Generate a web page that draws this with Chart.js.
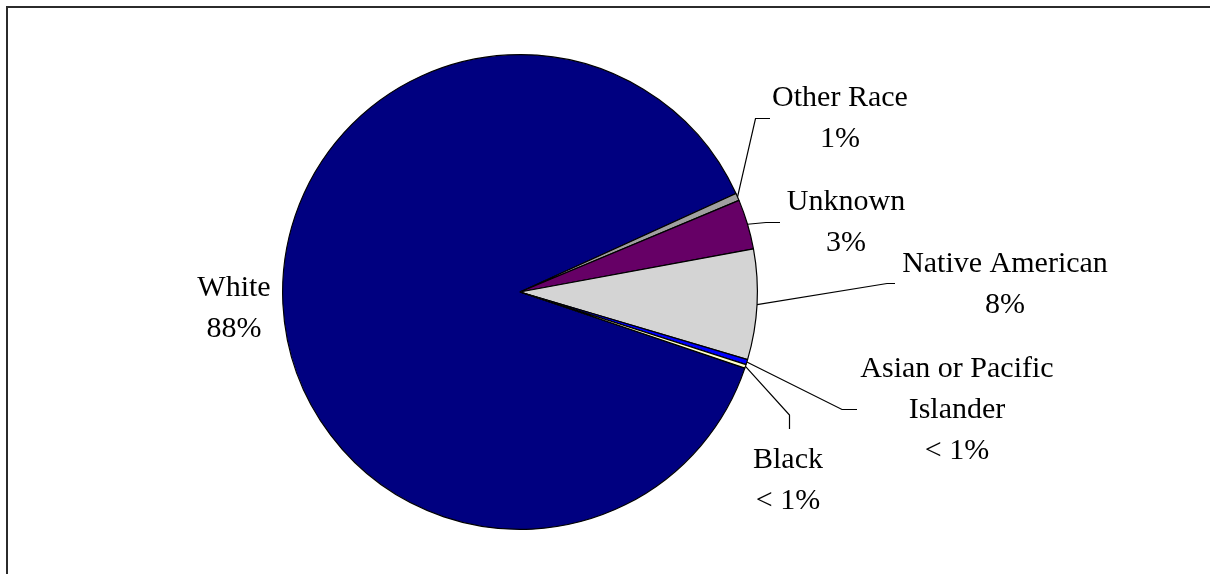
<!DOCTYPE html>
<html>
<head>
<meta charset="utf-8">
<style>
  html, body { margin: 0; padding: 0; background: #fff; overflow: hidden; }
  #wrap { position: relative; width: 1210px; height: 574px; }
  #frame { position: absolute; left: 6px; top: 6px; width: 1300px; height: 700px;
           border-left: 2px solid #2b2b2b; border-top: 2px solid #2b2b2b; }
  canvas { position: absolute; left: 0; top: 0; }
</style>
<script src="https://cdn.jsdelivr.net/npm/chart.js@4.4.0/dist/chart.umd.min.js"></script>
</head>
<body>
<div id="wrap">
  <div id="frame"></div>
  <canvas id="chart" width="1210" height="574"></canvas>
</div>
<script>
// slice data (angles converted to percent)
const categories = ["White", "Other Race", "Unknown", "Native American", "Asian or Pacific Islander", "Black"];
const shares = [88.0, 0.5, 3.4, 7.5, 0.35, 0.25];
const pctLabels = ["88%", "1%", "3%", "8%", "< 1%", "< 1%"];
const colors = ["#000080", "#a0a0a0", "#660066", "#d4d4d4", "#0000ff", "#ffffcc"];

// where each label sits (first baseline) and the bends of its leader line
const labelLayout = [
  { x: 234, y: 296, leader: null },
  { x: 840, y: 106, leader: [[755.5, 118.5], [770, 118.5]] },
  { x: 846, y: 210, leader: [[766, 222.5], [780, 222.5]] },
  { x: 1005, y: 272, leader: [[887, 283.5], [895, 283.5]] },
  { x: 957, y: 377, leader: [[842, 409.5], [857, 409.5]] },
  { x: 788, y: 468, leader: [[789.5, 415], [789.5, 429]] }
];

const FONT = '30px "Liberation Serif", "Times New Roman", serif';
const LINE_GAP = 41;

function wrapText(ctx, text, maxWidth) {
  const words = text.split(" ");
  const lines = [];
  let cur = "";
  words.forEach(w => {
    const test = cur ? cur + " " + w : w;
    if (cur && ctx.measureText(test).width > maxWidth) {
      lines.push(cur);
      cur = w;
    } else {
      cur = test;
    }
  });
  if (cur) lines.push(cur);
  return lines;
}

const sliceLabels = {
  id: "sliceLabels",
  afterDatasetsDraw(chart) {
    const ctx = chart.ctx;
    const arcs = chart.getDatasetMeta(0).data;
    ctx.save();
    ctx.font = FONT;
    ctx.fillStyle = "#000";
    ctx.strokeStyle = "#000";
    ctx.lineWidth = 1.2;
    ctx.textAlign = "center";
    ctx.textBaseline = "alphabetic";
    arcs.forEach((arc, i) => {
      const p = arc.getProps(["x", "y", "startAngle", "endAngle", "outerRadius"], true);
      const lay = labelLayout[i];
      if (lay.leader) {
        const mid = (p.startAngle + p.endAngle) / 2;
        ctx.beginPath();
        ctx.moveTo(p.x + Math.cos(mid) * p.outerRadius, p.y + Math.sin(mid) * p.outerRadius);
        lay.leader.forEach(pt => ctx.lineTo(pt[0], pt[1]));
        ctx.stroke();
      }
      const lines = wrapText(ctx, categories[i], 220).concat([pctLabels[i]]);
      lines.forEach((t, k) => ctx.fillText(t, lay.x, lay.y + k * LINE_GAP));
    });
    ctx.restore();
  }
};

new Chart(document.getElementById("chart"), {
  type: "pie",
  data: {
    labels: categories,
    datasets: [{
      data: shares,
      backgroundColor: colors,
      borderColor: "#000",
      borderWidth: 1.2
    }]
  },
  options: {
    responsive: false,
    animation: false,
    rotation: 108.7,
    layout: { padding: { left: 282, right: 452, top: 54, bottom: 44 } },
    plugins: {
      legend: { display: false },
      tooltip: { enabled: false }
    }
  },
  plugins: [sliceLabels]
});
</script>
</body>
</html>
